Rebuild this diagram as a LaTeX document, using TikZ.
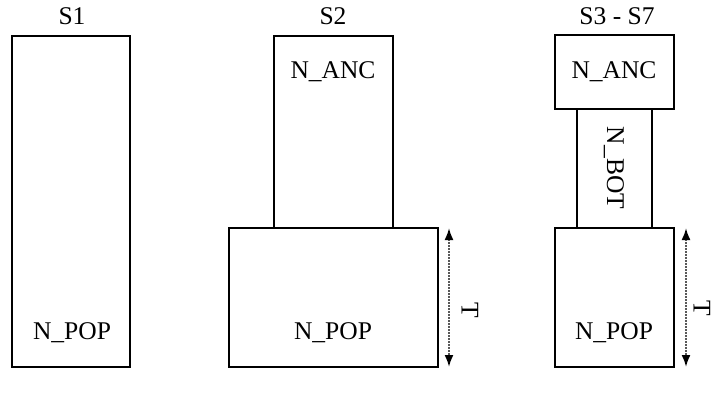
\documentclass[tikz,border=0pt]{standalone}
\usepackage{fontspec}
\setmainfont{Liberation Serif}
\usetikzlibrary{positioning,calc,arrows.meta}

\tikzset{
  blk/.style={line width=1.8pt},
  lbl/.style={font=\fontsize{25.5}{30}\selectfont, inner sep=0pt},
  dimarrow/.style={dash pattern=on 1.6pt off 1.4pt, line width=2pt, black!65,
    {Latex[length=12pt,width=9pt,black]}-{Latex[length=12pt,width=9pt,black]}}
}

\begin{document}
\begin{tikzpicture}[x=1pt, y=-1pt]
  \useasboundingbox (0,0) rectangle (715,393);

  % S1
  \draw[blk] (12,36) rectangle (130,367);
  \node[lbl] (s1) at (72,16) {S1};
  \node[lbl] (pop1) at (72,333) {N\_POP};

  % S2
  \draw[blk] (274,36) rectangle (393,228);
  \draw[blk] (229,228) rectangle (438,367);
  \node[lbl] (s2) at (333,16) {S2};
  \node[lbl] (anc2) at (333,72) {N\_ANC};
  \node[lbl] (pop2) at (333,333) {N\_POP};
  \coordinate (t2top) at (449,228);
  \coordinate (t2bot) at (449,367);
  \draw[dimarrow] (t2top) -- (t2bot);
  \node[lbl, rotate=-90] (t2) at (470,310) {T};

  % S3 - S7
  \draw[blk] (555,35) rectangle (674,109);
  \draw[blk] (577,109) rectangle (652,228);
  \draw[blk] (555,228) rectangle (674,367);
  \node[lbl] (s3) at (617,16) {S3 - S7};
  \node[lbl] (anc3) at (614,72) {N\_ANC};
  \node[lbl, rotate=-90] (bot3) at (614,168) {N\_BOT};
  \node[lbl] (pop3) at (614,333) {N\_POP};
  \coordinate (t3top) at (686,228);
  \coordinate (t3bot) at (686,367);
  \draw[dimarrow] (t3top) -- (t3bot);
  \node[lbl, rotate=-90] (t3) at (702,308) {T};
\end{tikzpicture}
\end{document}
